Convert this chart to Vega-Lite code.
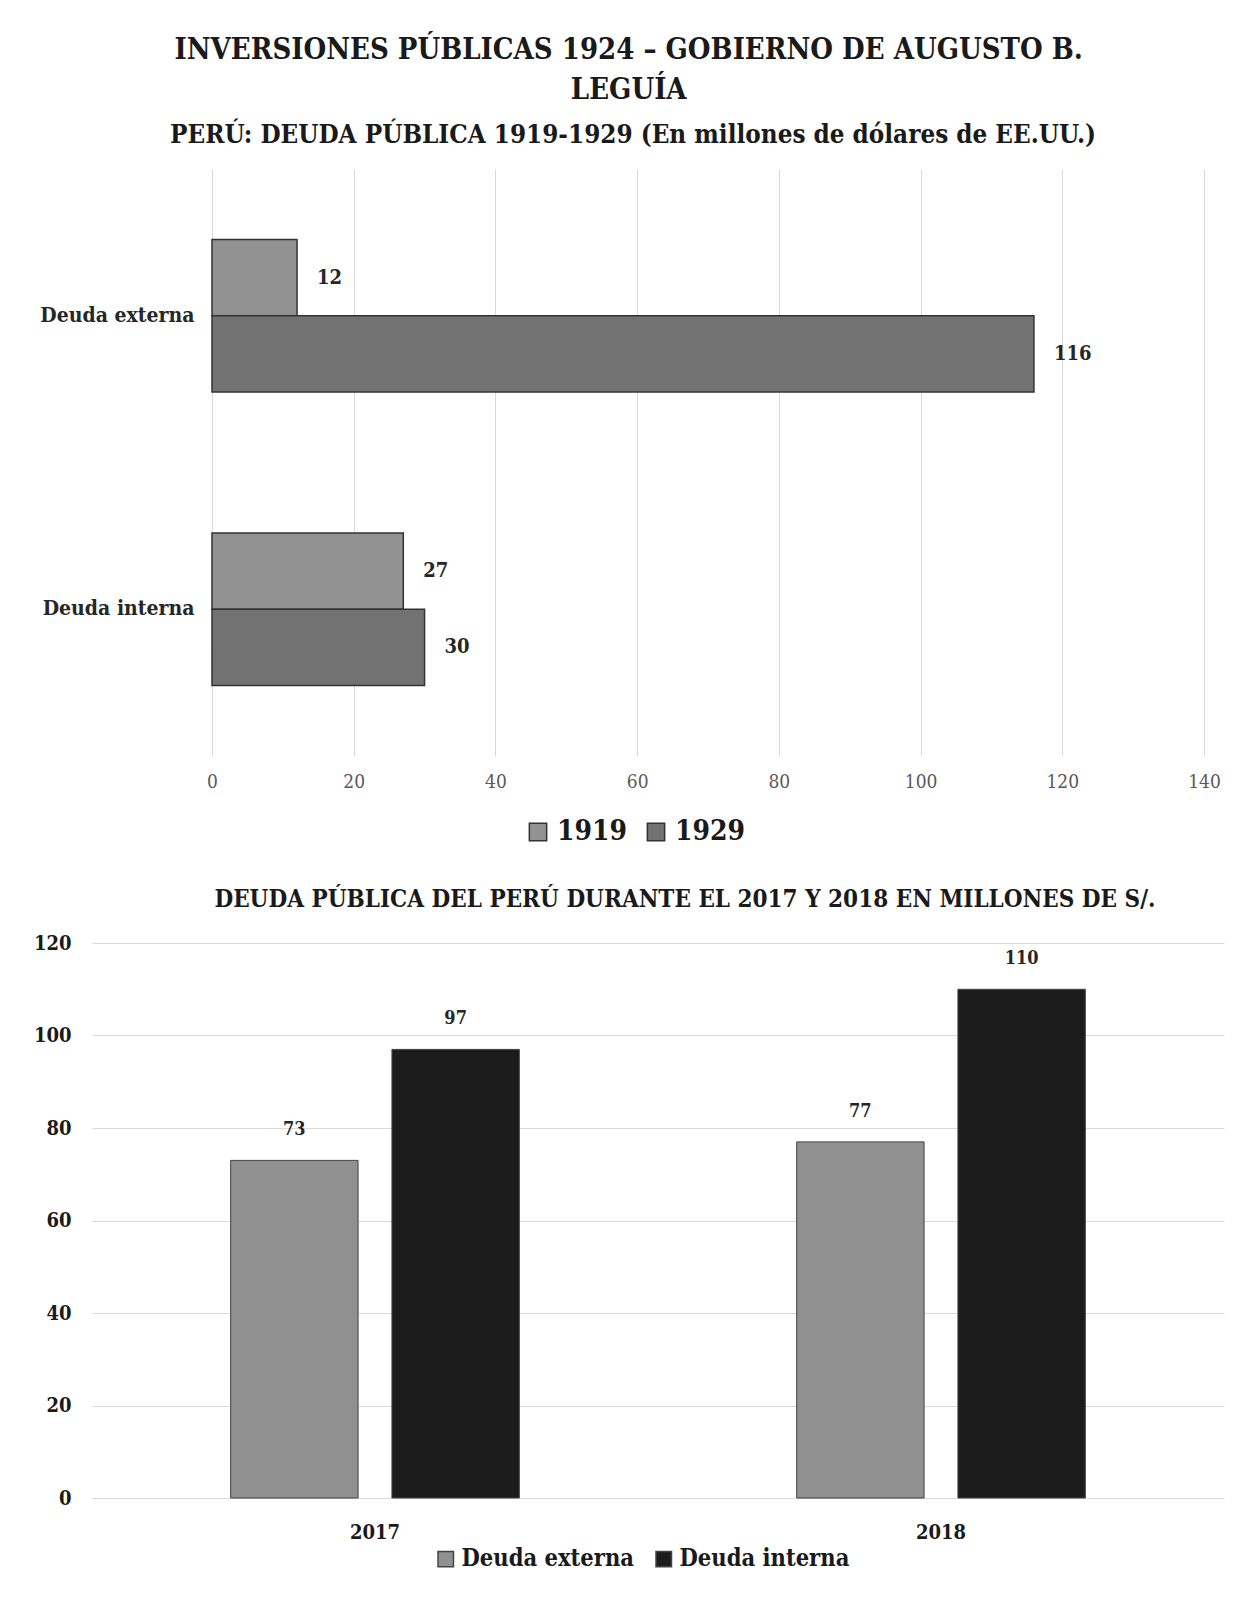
{
  "$schema": "https://vega.github.io/schema/vega-lite/v6.json",
  "background": "white",
  "padding": {"left": 33, "top": 36, "right": 10, "bottom": 5},
  "title": {
    "text": ["INVERSIONES PÚBLICAS 1924 – GOBIERNO DE AUGUSTO B.", "LEGUÍA"],
    "fontSize": 29,
    "font": "DejaVu Serif Condensed",
    "fontWeight": "bold",
    "color": "#1a1a1a",
    "lineHeight": 40,
    "anchor": "middle",
    "offset": 17
  },
  "spacing": 42,
  "resolve": {"scale": {"color": "independent"}, "legend": {"color": "independent"}},
  "config": {
    "font": "DejaVu Serif Condensed",
    "view": {"stroke": null},
    "title": {"font": "DejaVu Serif Condensed", "fontWeight": "bold", "color": "#1a1a1a"},
    "axis": {"labelFont": "DejaVu Serif Condensed"},
    "legend": {"labelFont": "DejaVu Serif Condensed", "labelLimit": 500}
  },
  "vconcat": [
    {
      "width": 1112,
      "height": 587,
      "title": {
        "text": "PERÚ: DEUDA PÚBLICA 1919-1929 (En millones de dólares de EE.UU.)",
        "fontSize": 25.8,
        "anchor": "middle",
        "frame": "group",
        "dx": -15,
        "offset": 20
      },
      "data": {
        "values": [
          {"tipo": "Deuda externa", "anio": "1919", "valor": 12},
          {"tipo": "Deuda externa", "anio": "1929", "valor": 116},
          {"tipo": "Deuda interna", "anio": "1919", "valor": 27},
          {"tipo": "Deuda interna", "anio": "1929", "valor": 30}
        ]
      },
      "encoding": {
        "y": {
          "field": "tipo",
          "type": "nominal",
          "scale": {"paddingInner": 0.48, "paddingOuter": 0.24},
          "axis": {
            "title": null,
            "labelFontSize": 21,
            "labelFontWeight": "bold",
            "labelColor": "#262626",
            "ticks": false,
            "domain": false,
            "offset": -120,
            "labelPadding": 18
          }
        },
        "yOffset": {"field": "anio", "scale": {"paddingInner": 0}},
        "x": {
          "field": "valor",
          "type": "quantitative",
          "scale": {"domain": [0, 140], "range": [120, 1112]},
          "axis": {
            "values": [0, 20, 40, 60, 80, 100, 120, 140],
            "title": null,
            "grid": true,
            "gridColor": "#d9d9d9",
            "domain": false,
            "ticks": false,
            "labelFlush": false,
            "labelFontSize": 19,
            "labelColor": "#595959",
            "labelPadding": 16
          }
        }
      },
      "layer": [
        {
          "mark": {"type": "bar", "stroke": "#333333", "strokeWidth": 1.5},
          "encoding": {
            "color": {
              "field": "anio",
              "type": "nominal",
              "scale": {"domain": ["1919", "1929"], "range": ["#929292", "#727272"]},
              "legend": {
                "title": null,
                "orient": "none",
                "direction": "horizontal",
                "legendX": 432,
                "legendY": 649,
                "symbolType": "square",
                "symbolSize": 300,
                "symbolStrokeColor": "#333333",
                "labelFontSize": 28,
                "labelFontWeight": "bold",
                "labelColor": "#1a1a1a",
                "columnPadding": 14,
                "labelOffset": 5
              }
            }
          }
        },
        {
          "mark": {"type": "text", "align": "left", "dx": 20, "fontSize": 20, "fontWeight": "bold", "color": "#262626"},
          "encoding": {"text": {"field": "valor", "type": "quantitative"}}
        }
      ]
    },
    {
      "width": 1132,
      "height": 555,
      "title": {
        "text": "DEUDA PÚBLICA DEL PERÚ DURANTE EL 2017 Y 2018 EN MILLONES DE S/.",
        "fontSize": 24,
        "anchor": "middle",
        "frame": "group",
        "dx": 27,
        "offset": 21
      },
      "data": {
        "values": [
          {"anio": "2017", "tipo": "Deuda externa", "valor": 73},
          {"anio": "2017", "tipo": "Deuda interna", "valor": 97},
          {"anio": "2018", "tipo": "Deuda externa", "valor": 77},
          {"anio": "2018", "tipo": "Deuda interna", "valor": 110}
        ]
      },
      "encoding": {
        "x": {
          "field": "anio",
          "type": "nominal",
          "scale": {"paddingInner": 0.49, "paddingOuter": 0.245},
          "axis": {
            "title": null,
            "labelAngle": 0,
            "labelFontSize": 20,
            "labelFontWeight": "bold",
            "labelColor": "#1a1a1a",
            "ticks": false,
            "domain": false,
            "labelPadding": 24
          }
        },
        "xOffset": {"field": "tipo", "scale": {"paddingInner": 0.21}},
        "y": {
          "field": "valor",
          "type": "quantitative",
          "scale": {"domain": [0, 120]},
          "axis": {
            "values": [0, 20, 40, 60, 80, 100, 120],
            "title": null,
            "grid": true,
            "gridColor": "#d9d9d9",
            "domain": false,
            "ticks": false,
            "labelFontSize": 20,
            "labelFontWeight": "bold",
            "labelColor": "#1a1a1a",
            "labelPadding": 21
          }
        }
      },
      "layer": [
        {
          "mark": {"type": "bar", "stroke": "#444444", "strokeWidth": 1},
          "encoding": {
            "color": {
              "field": "tipo",
              "type": "nominal",
              "scale": {"domain": ["Deuda externa", "Deuda interna"], "range": ["#909090", "#1c1c1c"]},
              "legend": {
                "title": null,
                "orient": "none",
                "direction": "horizontal",
                "legendX": 342,
                "legendY": 604,
                "symbolType": "square",
                "symbolSize": 240,
                "labelFontSize": 23.5,
                "labelFontWeight": "bold",
                "labelColor": "#1a1a1a",
                "columnPadding": 18,
                "labelOffset": 4
              }
            }
          }
        },
        {
          "mark": {"type": "text", "dy": -30, "fontSize": 18, "fontWeight": "bold", "color": "#262626", "baseline": "middle"},
          "encoding": {"text": {"field": "valor", "type": "quantitative"}}
        }
      ]
    }
  ]
}
